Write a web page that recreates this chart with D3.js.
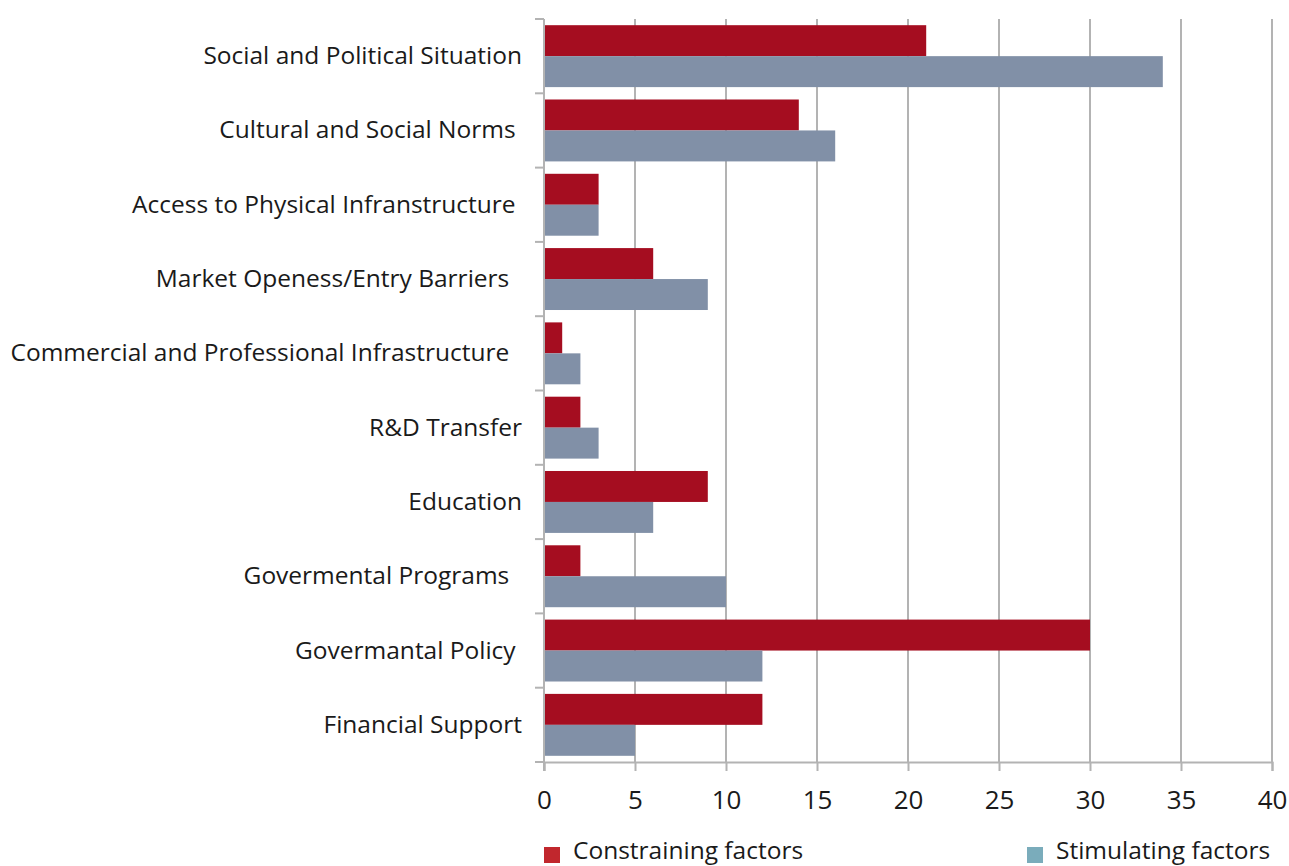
<!DOCTYPE html>
<html>
<head>
<meta charset="utf-8">
<script src="https://cdn.jsdelivr.net/npm/d3@7"></script>
<style>
  html, body { margin: 0; padding: 0; background: #fff; }
  svg { display: block; }
  text { font-family: "Open Sans", sans-serif; fill: #1a1a1a; }
</style>
</head>
<body>
<svg id="chart" width="1289" height="866"></svg>
<script>
// Factors (top to bottom); trailing spaces are part of the original labels
const categories = [
  "Social and Political Situation",
  "Cultural and Social Norms ",
  "Access to Physical Infranstructure ",
  "Market Openess/Entry Barriers  ",
  "Commercial and Professional Infrastructure  ",
  "R&D Transfer",
  "Education",
  "Govermental Programs  ",
  "Govermantal Policy ",
  "Financial Support"
];
const constraining = [21, 14, 3, 6, 1, 2, 9, 2, 30, 12];
const stimulating  = [34, 16, 3, 9, 2, 3, 6, 10, 12, 5];
const xTicks = [0, 5, 10, 15, 20, 25, 30, 35, 40];
const seriesNames = ["Constraining factors", "Stimulating factors"];

const svg = d3.select("#chart");
const plotTop = 19, plotBottom = 762;

const x = d3.scaleLinear().domain([0, 40]).range([544, 1272]);
const y = d3.scaleBand().domain(categories).range([plotTop, plotBottom]);
const sub = d3.scaleBand().domain(["c", "s"]).range([0, y.bandwidth()]).paddingInner(0).paddingOuter(0.2);

const gridColor = "#b3b3b3";

// vertical gridlines
svg.append("g").selectAll("line").data(xTicks.slice(1)).join("line")
  .attr("x1", d => x(d)).attr("x2", d => x(d))
  .attr("y1", plotTop).attr("y2", plotBottom)
  .attr("stroke", gridColor).attr("stroke-width", 2);

// bars
const rows = categories.map((c, i) => ({ c, con: constraining[i], sti: stimulating[i] }));
const g = svg.append("g");
g.selectAll("rect.con").data(rows).join("rect")
  .attr("class", "con")
  .attr("x", x(0)).attr("y", d => y(d.c) + sub("c"))
  .attr("width", d => x(d.con) - x(0)).attr("height", sub.bandwidth())
  .attr("fill", "#a50d20");
g.selectAll("rect.sti").data(rows).join("rect")
  .attr("class", "sti")
  .attr("x", x(0)).attr("y", d => y(d.c) + sub("s"))
  .attr("width", d => x(d.sti) - x(0)).attr("height", sub.bandwidth())
  .attr("fill", "#8190a7");

// x axis
const xAxis = svg.append("g").attr("transform", `translate(0,${plotBottom})`)
  .call(d3.axisBottom(x).tickValues(xTicks).tickSize(9));
xAxis.select(".domain").attr("stroke", gridColor).attr("stroke-width", 2);
xAxis.selectAll(".tick line").attr("stroke", gridColor).attr("stroke-width", 2);
xAxis.selectAll(".tick text")
  .attr("y", 47).attr("dy", null)
  .attr("font-size", 26).attr("font-family", "Open Sans, sans-serif").attr("fill", "#1a1a1a");

// y axis: ticks at band boundaries
const yAxisG = svg.append("g");
yAxisG.append("line").attr("x1", x(0)).attr("x2", x(0))
  .attr("y1", plotTop).attr("y2", plotBottom + 9)
  .attr("stroke", gridColor).attr("stroke-width", 2);
const bounds = categories.map(c => y(c)).concat([plotBottom]);
yAxisG.selectAll("line.tk").data(bounds).join("line")
  .attr("class", "tk")
  .attr("x1", x(0) - 9).attr("x2", x(0))
  .attr("y1", d => d).attr("y2", d => d)
  .attr("stroke", gridColor).attr("stroke-width", 2);
yAxisG.selectAll("text").data(categories).join("text")
  .attr("x", x(0) - 22)
  .attr("y", d => y(d) + y.bandwidth() / 2 + 8)
  .attr("text-anchor", "end")
  .attr("font-size", 24.5)
  .attr("xml:space", "preserve")
  .style("white-space", "pre")
  .text(d => d);

// legend
const legend = svg.append("g");
const legendItems = [
  { name: seriesNames[0], color: "#c1272d", x: 544 },
  { name: seriesNames[1], color: "#7aacbb", x: 1027 }
];
legendItems.forEach(it => {
  legend.append("rect").attr("x", it.x).attr("y", 847).attr("width", 16).attr("height", 16).attr("fill", it.color);
  legend.append("text").attr("x", it.x + 29).attr("y", 859).attr("font-size", 24.5).text(it.name);
});
</script>
</body>
</html>
